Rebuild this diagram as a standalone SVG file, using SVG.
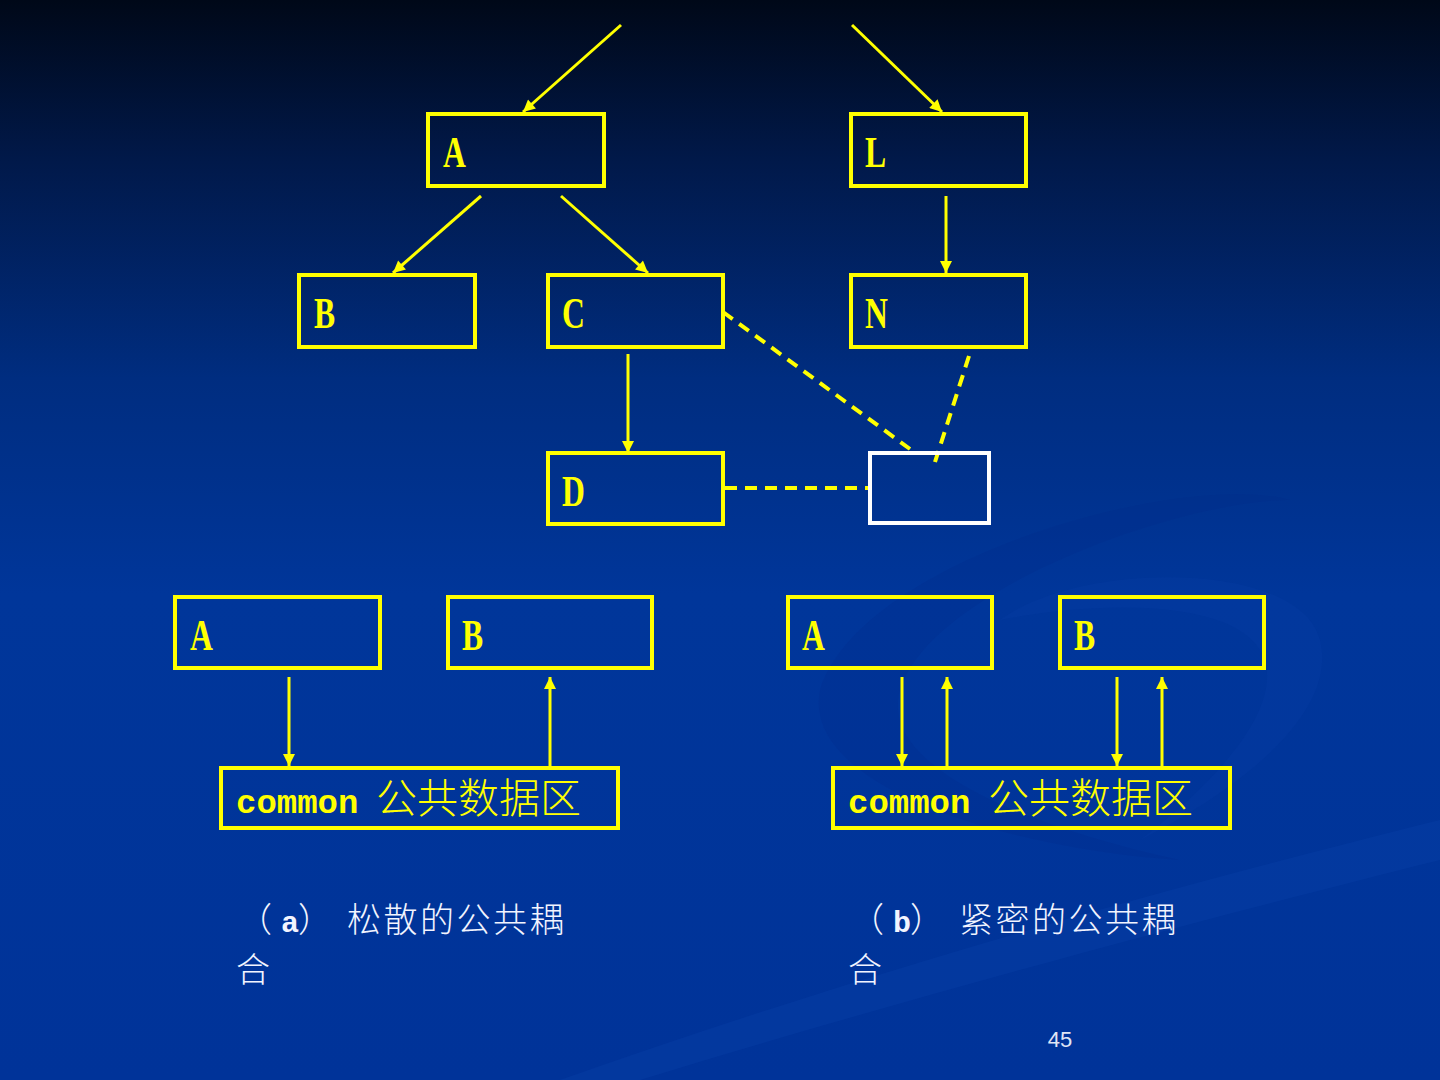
<svg xmlns="http://www.w3.org/2000/svg" width="1440" height="1080" viewBox="0 0 1440 1080">
<defs>
<linearGradient id="bg" x1="0" y1="0" x2="0" y2="1">
<stop offset="0" stop-color="#000818"/>
<stop offset="0.15" stop-color="#01194a"/>
<stop offset="0.35" stop-color="#002d80"/>
<stop offset="0.55" stop-color="#00369a"/>
<stop offset="1" stop-color="#003399"/>
</linearGradient>
<marker id="ah" viewBox="0 0 12 12" refX="12" refY="6" markerWidth="13" markerHeight="12" markerUnits="userSpaceOnUse" orient="auto">
<path d="M0,0 L12,6 L0,12 Z" fill="#FFFF00"/>
</marker>
<style>
.box{fill:none;stroke:#FFFF00;stroke-width:4}
.wbox{fill:none;stroke:#FFFFFF;stroke-width:4}
.arr{stroke:#FFFF00;stroke-width:3;fill:none;marker-end:url(#ah)}
.dash{stroke:#FFFF00;stroke-width:4;fill:none;stroke-dasharray:12,8}
.lbl{font-family:"Liberation Serif","DejaVu Serif",serif;font-size:44px;font-weight:bold;fill:#FFFF00}
.mono{font-family:"Liberation Mono","Courier New",monospace;font-weight:bold;font-size:34px;fill:#FFFF00}
.cjk{font-family:"Noto Sans CJK SC",sans-serif;font-size:41px;font-weight:300;fill:#FFFF00}
.cap{font-family:"Noto Sans CJK SC",sans-serif;font-size:34px;font-weight:300;fill:#F2F4FF}
.capl{font-family:"Liberation Mono",monospace;font-weight:bold;font-size:30px;fill:#F2F4FF}
.pg{font-family:"Liberation Sans",Arial,sans-serif;font-size:22px;fill:#E0E6F5}
</style>
</defs>
<rect x="0" y="0" width="1440" height="1080" fill="url(#bg)"/>
<g id="swoosh" fill="none">
<path d="M560,1080 C900,960 1200,880 1440,820 L1440,860 C1200,920 900,1000 640,1080 Z" fill="#0a42a8" opacity="0.35"/>
<path d="M820,690 C860,560 1180,470 1290,500 C1180,500 930,590 900,690 C880,760 1000,820 1180,860 C1020,850 800,790 820,690 Z" fill="#002a85" opacity="0.2"/>
<path d="M1000,620 C1080,560 1300,560 1320,640 C1340,720 1220,800 1140,840 C1220,780 1290,700 1260,650 C1230,600 1100,600 1000,620 Z" fill="#0a42a8" opacity="0.2"/>
</g>
<g id="connectors">
<line class="arr" x1="621" y1="25" x2="523" y2="112"/>
<line class="arr" x1="852" y1="25" x2="942" y2="112"/>
<line class="arr" x1="481" y1="196" x2="393" y2="273"/>
<line class="arr" x1="561" y1="196" x2="648" y2="273"/>
<line class="arr" x1="946" y1="196" x2="946" y2="273"/>
<line class="arr" x1="628" y1="354" x2="628" y2="453"/>
<line class="dash" x1="723" y1="312" x2="910" y2="449"/>
<line class="dash" x1="969" y1="356" x2="935" y2="462"/>
<line class="dash" x1="725" y1="488" x2="868" y2="488"/>
<line class="arr" x1="289" y1="677" x2="289" y2="766"/>
<line class="arr" x1="550" y1="766" x2="550" y2="677"/>
<line class="arr" x1="902" y1="677" x2="902" y2="766"/>
<line class="arr" x1="947" y1="766" x2="947" y2="677"/>
<line class="arr" x1="1117" y1="677" x2="1117" y2="766"/>
<line class="arr" x1="1162" y1="766" x2="1162" y2="677"/>
</g>
<g id="node-A-top"><rect class="box" x="428" y="114" width="176" height="72"/><text class="lbl" transform="translate(443,167) scale(0.72,1)">A</text></g>
<g id="node-L"><rect class="box" x="851" y="114" width="175" height="72"/><text class="lbl" transform="translate(865,167) scale(0.72,1)">L</text></g>
<g id="node-B-top"><rect class="box" x="299" y="275" width="176" height="72"/><text class="lbl" transform="translate(314,328) scale(0.72,1)">B</text></g>
<g id="node-C"><rect class="box" x="548" y="275" width="175" height="72"/><text class="lbl" transform="translate(562,328) scale(0.72,1)">C</text></g>
<g id="node-N"><rect class="box" x="851" y="275" width="175" height="72"/><text class="lbl" transform="translate(865,328) scale(0.72,1)">N</text></g>
<g id="node-D"><rect class="box" x="548" y="453" width="175" height="71"/><text class="lbl" transform="translate(562,506) scale(0.72,1)">D</text></g>
<g id="node-common-top"><rect class="wbox" x="870" y="453" width="119" height="70"/></g>
<g id="node-A-a"><rect class="box" x="175" y="597" width="205" height="71"/><text class="lbl" transform="translate(190,650) scale(0.72,1)">A</text></g>
<g id="node-B-a"><rect class="box" x="448" y="597" width="204" height="71"/><text class="lbl" transform="translate(462,650) scale(0.72,1)">B</text></g>
<g id="node-common-a"><rect class="box" x="221" y="768" width="397" height="60"/><text x="236" y="813"><tspan class="mono">common</tspan><tspan class="cjk" x="376">公共数据区</tspan></text></g>
<g id="node-A-b"><rect class="box" x="788" y="597" width="204" height="71"/><text class="lbl" transform="translate(802,650) scale(0.72,1)">A</text></g>
<g id="node-B-b"><rect class="box" x="1060" y="597" width="204" height="71"/><text class="lbl" transform="translate(1074,650) scale(0.72,1)">B</text></g>
<g id="node-common-b"><rect class="box" x="833" y="768" width="397" height="60"/><text x="848" y="813"><tspan class="mono">common</tspan><tspan class="cjk" x="988">公共数据区</tspan></text></g>
<g id="caption-a">
<text class="cap" x="238" y="932">（<tspan class="capl" x="281" y="932">a</tspan><tspan x="298" y="932">）</tspan><tspan x="347" y="932" letter-spacing="2.5">松散的公共耦</tspan><tspan x="236" y="982">合</tspan></text>
</g>
<g id="caption-b">
<text class="cap" x="850" y="932">（<tspan class="capl" x="893" y="932">b</tspan><tspan x="910" y="932">）</tspan><tspan x="959" y="932" letter-spacing="2.5">紧密的公共耦</tspan><tspan x="848" y="982">合</tspan></text>
</g>
<text class="pg" x="1060" y="1047" text-anchor="middle">45</text>
</svg>
